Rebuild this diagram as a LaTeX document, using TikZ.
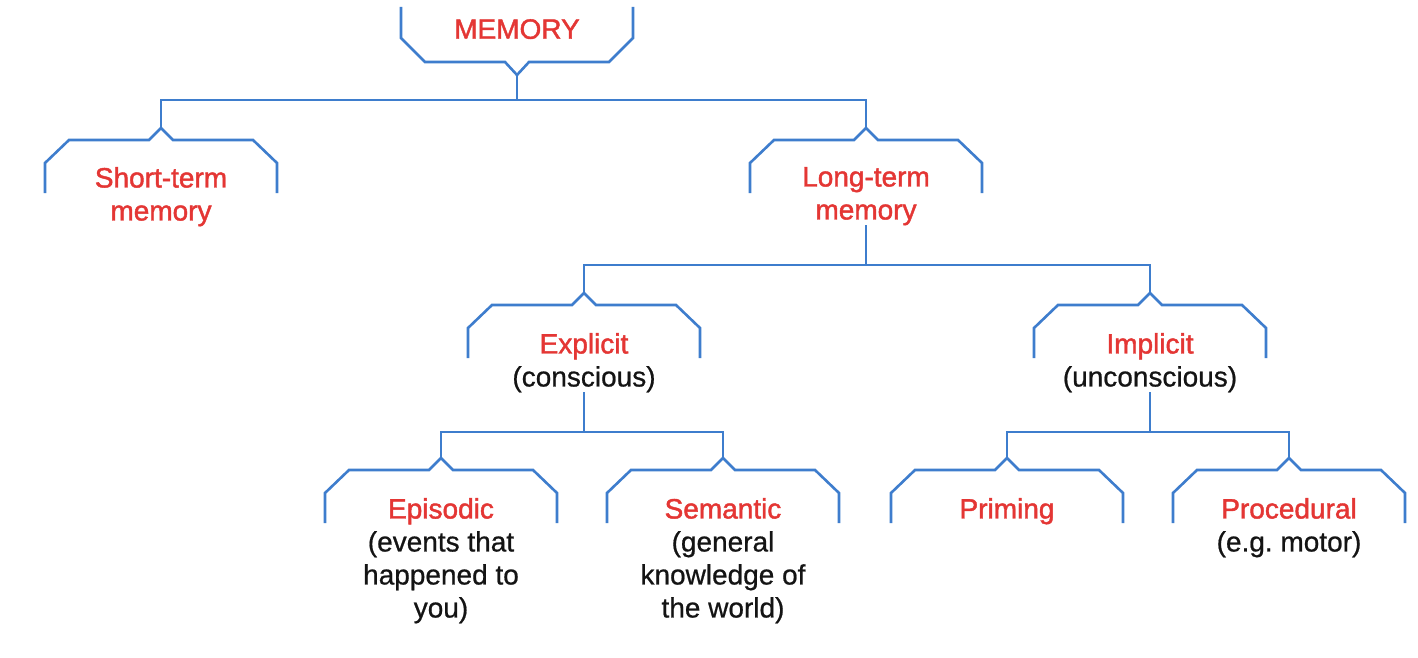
\documentclass[tikz,border=0pt]{standalone}
\usepackage{fontspec}
\setmainfont[FakeBold=0.7]{Liberation Sans}
\newfontfamily\redfont[FakeBold=1.5]{Liberation Sans}
\definecolor{lineblue}{RGB}{62,125,205}
\definecolor{labred}{RGB}{228,54,52}
\definecolor{labblack}{RGB}{20,20,20}
\frenchspacing
\tikzset{
  brkline/.style={draw=lineblue, line width=2.6pt, line join=miter},
  conn/.style={draw=lineblue, line width=2.2pt},
  lab/.style={inner sep=0pt, anchor=north, align=center, font=\fontsize{28}{33}\selectfont, text=labblack},
  brk/.pic={
    \draw[brkline] (-116,53) -- (-116,23) -- (-92,0) -- (-12,0) -- (0,-12) -- (12,0) -- (92,0) -- (116,23) -- (116,53);
    \coordinate (-apex) at (0,-12);
  },
  brkdown/.pic={
    \draw[brkline] (-116,-55) -- (-116,-24) -- (-92,0) -- (-12,0) -- (0,13) -- (12,0) -- (92,0) -- (116,-24) -- (116,-55);
    \coordinate (-apex) at (0,13);
  }
}
\newcommand{\rt}[1]{\textcolor{labred}{\redfont #1}}
\begin{document}
\begin{tikzpicture}[x=1pt,y=-1pt]
\useasboundingbox[fill=white] (0,0) rectangle (1418,658);
% brackets
\pic (memb) at (517,62) {brkdown};
\pic (stmb) at (161,140) {brk};
\pic (ltmb) at (866,140) {brk};
\pic (expb) at (584,305) {brk};
\pic (impb) at (1150,305) {brk};
\pic (epib) at (441,470) {brk};
\pic (semb) at (723,470) {brk};
\pic (prib) at (1007,470) {brk};
\pic (prob) at (1289,470) {brk};
% labels
\node[lab] (mem) at (517,19) {\rt{MEMORY}};
\node[lab] (stm) at (161,167) {\rt{Short-term}\\\rt{memory}};
\node[lab] (ltm) at (866,167) {\rt{Long-term}\\\rt{memory}};
\node[lab] (exp) at (584,333) {\rt{Explicit}\\(conscious)};
\node[lab] (imp) at (1150,333) {\rt{Implicit}\\(unconscious)};
\node[lab] (epi) at (441,498) {\rt{Episodic}\\(events that\\happened to\\you)};
\node[lab] (sem) at (723,498) {\rt{Semantic}\\(general\\knowledge of\\the world)};
\node[lab] (pri) at (1007,498) {\rt{Priming}};
\node[lab] (pro) at (1289,498) {\rt{Procedural}\\(e.g. motor)};
% bus coordinates
\coordinate (bus1) at (0,100);
\coordinate (bus2) at (0,265);
\coordinate (bus3) at (0,432);
% connectors
\draw[conn] (memb-apex) -- (memb-apex |- bus1);
\draw[conn] (stmb-apex) -- (stmb-apex |- bus1) -| (ltmb-apex);
\draw[conn] (ltm.south) -- (ltm.south |- bus2);
\draw[conn] (expb-apex) -- (expb-apex |- bus2) -| (impb-apex);
\draw[conn] (exp.south) -- (exp.south |- bus3);
\draw[conn] (epib-apex) -- (epib-apex |- bus3) -| (semb-apex);
\draw[conn] (imp.south) -- (imp.south |- bus3);
\draw[conn] (prib-apex) -- (prib-apex |- bus3) -| (prob-apex);
\end{tikzpicture}
\end{document}
